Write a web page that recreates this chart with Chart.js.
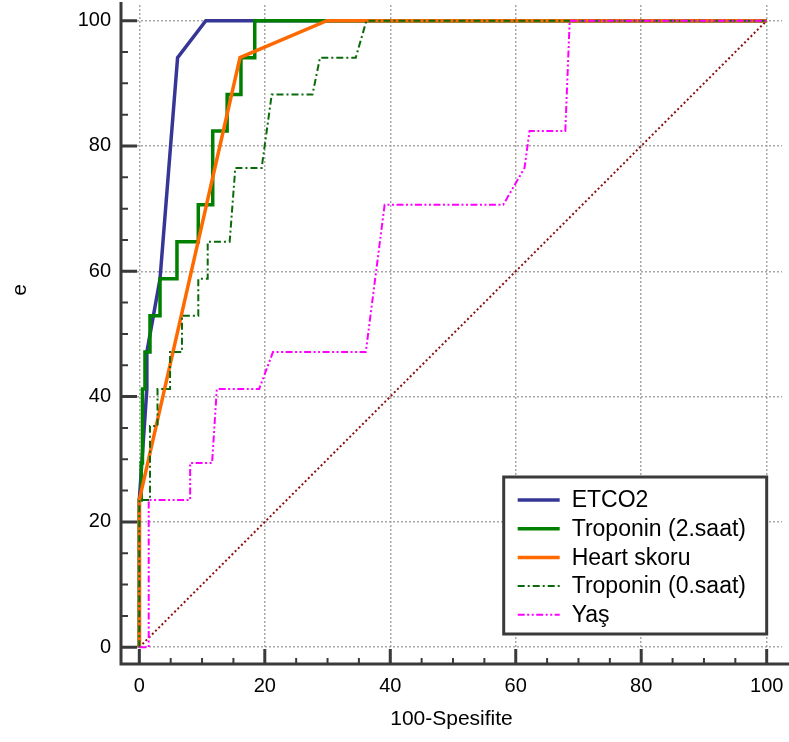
<!DOCTYPE html>
<html>
<head>
<meta charset="utf-8">
<script src="https://cdn.jsdelivr.net/npm/chart.js@4.4.0/dist/chart.umd.min.js"></script>
<style>
html,body{margin:0;padding:0;background:#fff;overflow:hidden}
#wrap{width:789px;height:742px;position:relative}
</style>
</head>
<body>
<div id="wrap"><canvas id="c"></canvas></div>
<script>
// ---- data ----
const seriesNames = ['ETCO2', 'Troponin (2.saat)', 'Heart skoru', 'Troponin (0.saat)', 'Yaş'];

const etco2X = [0, 0, 1.2, 1.2, 3.3, 6.1, 10.6, 100];
const etco2Y = [0, 23.5, 41.2, 47.1, 58.8, 94.1, 100, 100];

const trop2X = [0, 0, 0.3, 0.3, 0.5, 0.5, 0.9, 0.9, 1.7, 1.7, 3.3, 3.3, 6.0, 6.0, 9.4, 9.4, 11.7, 11.7, 14.0, 14.0, 16.2, 16.2, 18.4, 18.4, 100];
const trop2Y = [0, 23.5, 23.5, 29.4, 29.4, 41.2, 41.2, 47.1, 47.1, 52.9, 52.9, 58.8, 58.8, 64.7, 64.7, 70.6, 70.6, 82.4, 82.4, 88.2, 88.2, 94.1, 94.1, 100, 100];

const heartX = [0, 0, 16.05, 29.9, 100];
const heartY = [0, 23.5, 94.1, 100, 100];

const trop0X = [0, 0, 1.7, 1.7, 2.9, 2.9, 4.9, 4.9, 6.8, 6.8, 9.4, 9.4, 10.9, 10.9, 14.4, 15.3, 19.5, 21.1, 27.6, 28.8, 34.5, 36.2, 100];
const trop0Y = [0, 23.5, 23.5, 35.3, 35.3, 41.2, 41.2, 47.1, 47.1, 52.9, 52.9, 58.8, 58.8, 64.7, 64.7, 76.5, 76.5, 88.2, 88.2, 94.1, 94.1, 100, 100];

const yasX = [0, 1.5, 1.5, 8.1, 8.1, 11.6, 12.35, 19.1, 21.3, 36.1, 39.1, 58.0, 61.4, 62.2, 67.9, 68.6, 100];
const yasY = [0, 0, 23.5, 23.5, 29.4, 29.4, 41.2, 41.2, 47.1, 47.1, 70.6, 70.6, 76.5, 82.4, 82.4, 100, 100];

const refX = [0, 100];
const refY = [0, 100];

const majorTicks = [0, 20, 40, 60, 80, 100];
const minorTicks = [5, 10, 15, 25, 30, 35, 45, 50, 55, 65, 70, 75, 85, 90, 95];

const xTitle = '100-Spesifite';
const yTitle = 'e';

// ---- helpers ----
const pts = (xs, ys) => xs.map((v, i) => ({x: v, y: ys[i]}));
const FONT = "'Liberation Sans', Arial, sans-serif";
Chart.defaults.font.family = FONT;
Chart.defaults.color = '#000';

const axesPlugin = {
  id: 'axesPlugin',
  afterDatasetsDraw(chart) {
    const {ctx, chartArea: a, scales: {x, y}} = chart;
    ctx.save();
    ctx.strokeStyle = '#3a3a3a';
    ctx.lineCap = 'butt';
    ctx.lineWidth = 3;
    ctx.beginPath();
    ctx.moveTo(a.left, a.top - 3);
    ctx.lineTo(a.left, a.bottom);
    ctx.lineTo(chart.width, a.bottom);
    ctx.stroke();
    majorTicks.forEach(v => {
      const px = x.getPixelForValue(v);
      const py = y.getPixelForValue(v);
      ctx.beginPath();
      ctx.moveTo(px, a.bottom); ctx.lineTo(px, a.bottom - 15);
      ctx.moveTo(a.left, py); ctx.lineTo(a.left + 16, py);
      ctx.stroke();
    });
    ctx.lineWidth = 2;
    minorTicks.forEach(v => {
      const px = x.getPixelForValue(v);
      const py = y.getPixelForValue(v);
      ctx.beginPath();
      ctx.moveTo(px, a.bottom); ctx.lineTo(px, a.bottom - 6);
      ctx.moveTo(a.left, py); ctx.lineTo(a.left + 7, py);
      ctx.stroke();
    });
    // y title
    ctx.fillStyle = '#000';
    ctx.font = '21px ' + FONT;
    ctx.translate(20, 290);
    ctx.rotate(-Math.PI / 2);
    ctx.textAlign = 'center';
    ctx.textBaseline = 'middle';
    ctx.fillText(yTitle, 0, 0);
    ctx.restore();
  }
};

const legendPlugin = {
  id: 'boxLegend',
  afterDraw(chart) {
    const {ctx, chartArea: a, scales: {x}} = chart;
    const items = chart.data.datasets.filter(d => seriesNames.includes(d.label));
    items.sort((p, q) => seriesNames.indexOf(p.label) - seriesNames.indexOf(q.label));
    const right = x.getPixelForValue(100);
    const width = 263, height = 157;
    const bottom = a.bottom - 30;
    const left = right - width, top = bottom - height;
    ctx.save();
    ctx.fillStyle = '#fff';
    ctx.fillRect(left, top, width, height);
    ctx.strokeStyle = '#3a3a3a';
    ctx.lineWidth = 3;
    ctx.strokeRect(left, top, width, height);
    ctx.font = '23px ' + FONT;
    ctx.textBaseline = 'middle';
    ctx.textAlign = 'left';
    items.forEach((d, i) => {
      const cy = top + 23 + i * 28.7;
      ctx.strokeStyle = d.borderColor;
      ctx.lineWidth = d.borderWidth;
      ctx.setLineDash(d.borderDash || []);
      ctx.beginPath();
      ctx.moveTo(left + 14, cy); ctx.lineTo(left + 56, cy);
      ctx.stroke();
      ctx.setLineDash([]);
      ctx.fillStyle = '#000';
      ctx.fillText(d.label, left + 68, cy + 1);
    });
    ctx.restore();
  }
};

const noPad = s => { s.paddingTop = 0; s.paddingBottom = 0; s.paddingLeft = 0; s.paddingRight = 0; };
const common = {fill: false, tension: 0, pointRadius: 0, pointHoverRadius: 0};

new Chart(document.getElementById('c'), {
  type: 'line',
  data: {
    datasets: [
      {...common, label: 'ref', data: pts(refX, refY), borderColor: '#8b1010', borderWidth: 2, borderDash: [2, 2.5], order: 6},
      {...common, label: seriesNames[0], data: pts(etco2X, etco2Y), borderColor: '#363696', borderWidth: 3.5, order: 5},
      {...common, label: seriesNames[1], data: pts(trop2X, trop2Y), borderColor: '#008000', borderWidth: 3.5, order: 4},
      {...common, label: seriesNames[2], data: pts(heartX, heartY), borderColor: '#ff6a00', borderWidth: 3.5, order: 3},
      {...common, label: seriesNames[3], data: pts(trop0X, trop0Y), borderColor: '#0a6a0a', borderWidth: 2, borderDash: [7, 3, 2, 3], order: 2},
      {...common, label: seriesNames[4], data: pts(yasX, yasY), borderColor: '#ff00ff', borderWidth: 2, borderDash: [7, 2.5, 2, 2.5, 2, 2.5], order: 1}
    ]
  },
  options: {
    responsive: true,
    maintainAspectRatio: false,
    animation: false,
    devicePixelRatio: 1,
    layout: {padding: {top: 5, right: 7, left: 0, bottom: 0}},
    plugins: {legend: {display: false}, tooltip: {enabled: false}},
    events: [],
    scales: {
      x: {
        type: 'linear',
        min: -2.92, max: 102.44,
        afterBuildTicks: s => { s.ticks = majorTicks.map(v => ({value: v})); },
        afterFit: s => { s.height = 78; noPad(s); },
        grid: {color: '#a8a8a8', lineWidth: 1.5, drawTicks: false},
        border: {display: false, dash: [2, 2]},
        ticks: {padding: 10, font: {size: 20}, color: '#000', callback: v => String(v)},
        title: {display: true, text: xTitle, font: {size: 21}, color: '#000', padding: {top: 0, bottom: 10}}
      },
      y: {
        type: 'linear',
        min: -2.68, max: 102.5,
        afterBuildTicks: s => { s.ticks = majorTicks.map(v => ({value: v})); },
        afterFit: s => { s.width = 121; noPad(s); },
        grid: {color: '#a8a8a8', lineWidth: 1.5, drawTicks: false},
        border: {display: false, dash: [2, 2]},
        ticks: {padding: 10, font: {size: 20}, color: '#000', callback: v => String(v)}
      }
    }
  },
  plugins: [axesPlugin, legendPlugin]
});
</script>
</body>
</html>
